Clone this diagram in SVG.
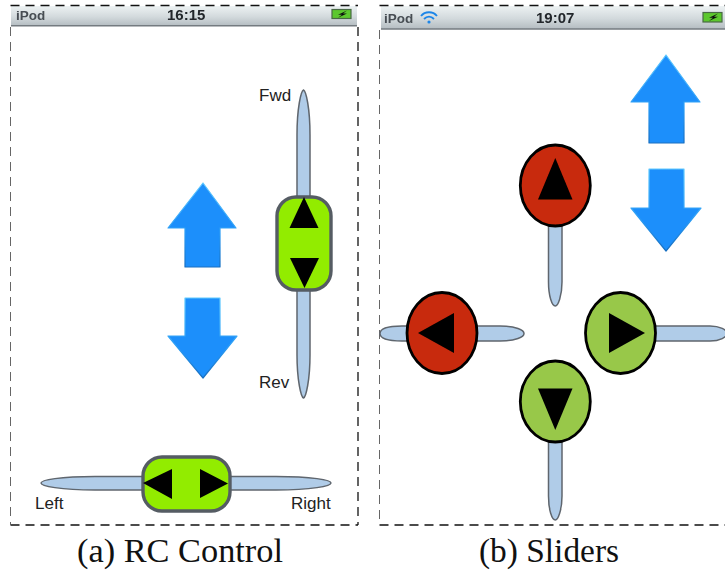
<svg xmlns="http://www.w3.org/2000/svg" width="725" height="574" viewBox="0 0 725 574">
<style>
.dash{fill:none;stroke:#111;stroke-width:1.3;stroke-dasharray:9 6}
.dashl{fill:none;stroke:#666;stroke-width:1;stroke-dasharray:9 6}
.track{fill:#b0cce8;stroke:#5f666e;stroke-width:1.5}
.blue{fill:#1e8ffb;stroke:url(#bevel);stroke-width:1.2;stroke-linejoin:round}
.pad{fill:#92ec00;stroke:#555c64;stroke-width:3.4}
.red{fill:#c8290a;stroke:#000;stroke-width:2.8}
.green{fill:#98c84a;stroke:#000;stroke-width:2.8}
.tri{fill:#000}
.ui{font-family:"Liberation Sans",Arial,sans-serif;font-size:17px;fill:#222}
.st{font-family:"Liberation Sans",Arial,sans-serif;font-size:13.500px;font-weight:bold;fill:#474d53}
.stb{font-size:15px;fill:#22272b}
.cap{font-family:"Liberation Serif","Times New Roman",serif;font-size:33px;fill:#111}
.batt{fill:#5cc82e;stroke:#4a6a44;stroke-width:1.200}
.bolt{fill:#111}
</style>
<defs>
<linearGradient id="bar" x1="0" y1="0" x2="0" y2="1">
<stop offset="0" stop-color="#edf2f3"/><stop offset=".55" stop-color="#d2d9dc"/><stop offset="1" stop-color="#b4bcc1"/>
</linearGradient>
<linearGradient id="bevel" x1="0" y1="0" x2="0" y2="1">
<stop offset="0" stop-color="#5fcaff"/><stop offset=".6" stop-color="#2a9cf5"/><stop offset="1" stop-color="#176ec0"/>
</linearGradient>
<filter id="soft" x="-20%" y="-20%" width="140%" height="140%"><feGaussianBlur stdDeviation="0.700"/></filter>
<filter id="soft2" x="-20%" y="-20%" width="140%" height="140%"><feGaussianBlur stdDeviation="0.400"/></filter>
</defs>

<g id="panel-a">
<rect x="11" y="6" width="346" height="20" fill="url(#bar)"/>
<line x1="11" y1="25.800" x2="357" y2="25.800" stroke="#747b80" stroke-width="1.400"/>
<path class="dash" d="M10.500 5.500H358"/>
<path class="dash" d="M10.500 525H358"/>
<path class="dashl" d="M10.500 27V525"/>
<path class="dash" d="M358 27V525"/>
</g>

<g id="status-a" filter="url(#soft2)">
<text class="st" x="16" y="20">iPod</text>
<text class="st stb" x="167" y="20">16:15</text>
<rect class="batt" x="332" y="9.500" width="19" height="9"/>
<path class="bolt" d="M347 10.500l-9 4.200h4l-4 3 9-4.200h-4z"/>
</g>

<g id="arrow-a-up" filter="url(#soft2)"><path class="blue" d="M203 183L236 228H220V267H185V228H168Z"/></g>
<g id="arrow-a-down" filter="url(#soft2)"><path class="blue" d="M185 298H220V336H237L203 378L168 336H185Z"/></g>

<g id="slider-fwd-rev">
<g filter="url(#soft2)"><path class="track" d="M303.500 90C306 91 310 108 310 135V355C310 380 306 397 303.500 398C301 397 297 380 297 355V135C297 108 301 91 303.500 90Z"/></g>
<g filter="url(#soft)"><rect class="pad" x="277" y="197" width="54" height="93" rx="19"/></g>
<g filter="url(#soft2)">
<path class="tri" d="M304 197L318.500 228H289.500Z"/>
<path class="tri" d="M290 258H319L304.500 288Z"/>
</g>
<text class="ui" x="259" y="101">Fwd</text>
<text class="ui" x="259" y="388">Rev</text>
</g>

<g id="slider-left-right">
<g filter="url(#soft2)"><path class="track" d="M41 483C41 480 60 476.500 95 476.500H276C312 476.500 331 480 331 483C331 486 312 490 276 490H95C60 490 41 486 41 483Z"/></g>
<g filter="url(#soft)"><rect class="pad" x="143" y="457" width="87" height="54" rx="19"/></g>
<g filter="url(#soft2)">
<path class="tri" d="M143 483L172 469V499Z"/>
<path class="tri" d="M200 469L228 483.500L200 498Z"/>
</g>
<text class="ui" x="35" y="509">Left</text>
<text class="ui" x="291" y="509">Right</text>
</g>

<g id="panel-b">
<rect x="381" y="6" width="344" height="23" fill="url(#bar)"/>
<line x1="381" y1="29" x2="725" y2="29" stroke="#747b80" stroke-width="1.600"/>
<path class="dash" d="M379.500 5.500H725"/>
<path class="dash" d="M379.500 525H725"/>
<path class="dashl" d="M379.500 30V525"/>
</g>

<g id="status-b" filter="url(#soft2)">
<text class="st" x="384" y="23">iPod</text>
<g fill="none" stroke="#1e86e8" stroke-width="1.800">
<path d="M421 16C425 11 433 11 437 16"/>
<path d="M424 19C427 16 431 16 434 19"/>
</g>
<circle cx="429" cy="22" r="1.600" fill="#1e86e8"/>
<text class="st stb" x="536" y="23">19:07</text>
<rect class="batt" x="703" y="12.500" width="19" height="9.500"/>
<path class="bolt" d="M718 13.500l-9 4.300h4l-4 3.200 9-4.300h-4z"/>
</g>

<g id="arrow-b-up" filter="url(#soft2)"><path class="blue" d="M666 55L700 102H684V143H649V102H631Z"/></g>
<g id="arrow-b-down" filter="url(#soft2)"><path class="blue" d="M649 169H684V208H701L666 251L631 208H649Z"/></g>

<g id="slider-up" filter="url(#soft2)">
<path class="track" d="M548.500 220H562V282C562 296 558 306 555.300 306C552 306 548.500 296 548.500 282Z"/>
<ellipse class="red" cx="555.300" cy="185.500" rx="35" ry="40.500"/>
<path class="tri" d="M555.300 158L572.500 199.500H538Z"/>
</g>

<g id="slider-left" filter="url(#soft2)">
<path class="track" d="M380 333.500C380 329 386 326 402 326H500C516 326 524 330 524 333.500C524 337 516 341 500 341H402C386 341 380 338 380 333.500Z"/>
<ellipse class="red" cx="442" cy="333" rx="35" ry="40.500"/>
<path class="tri" d="M418 333L454 313V353Z"/>
</g>

<g id="slider-right" filter="url(#soft2)">
<path class="track" d="M650 326H710C720 326 727 330 727 333.500C727 337 720 341 710 341H650Z"/>
<ellipse class="green" cx="620.500" cy="333" rx="35" ry="40.500"/>
<path class="tri" d="M609 313L645 333L609 353Z"/>
</g>

<g id="slider-down" filter="url(#soft2)">
<path class="track" d="M548.500 435H562V496C562 510 558 520 555.300 520C552 520 548.500 510 548.500 496Z"/>
<ellipse class="green" cx="555.300" cy="401.500" rx="35" ry="40.500"/>
<path class="tri" d="M538 388.500H572.500L555.300 430Z"/>
</g>

<text class="cap" x="77" y="562" textLength="206" lengthAdjust="spacingAndGlyphs">(a) RC Control</text>
<text class="cap" x="479" y="562" textLength="140" lengthAdjust="spacingAndGlyphs">(b) Sliders</text>
</svg>
